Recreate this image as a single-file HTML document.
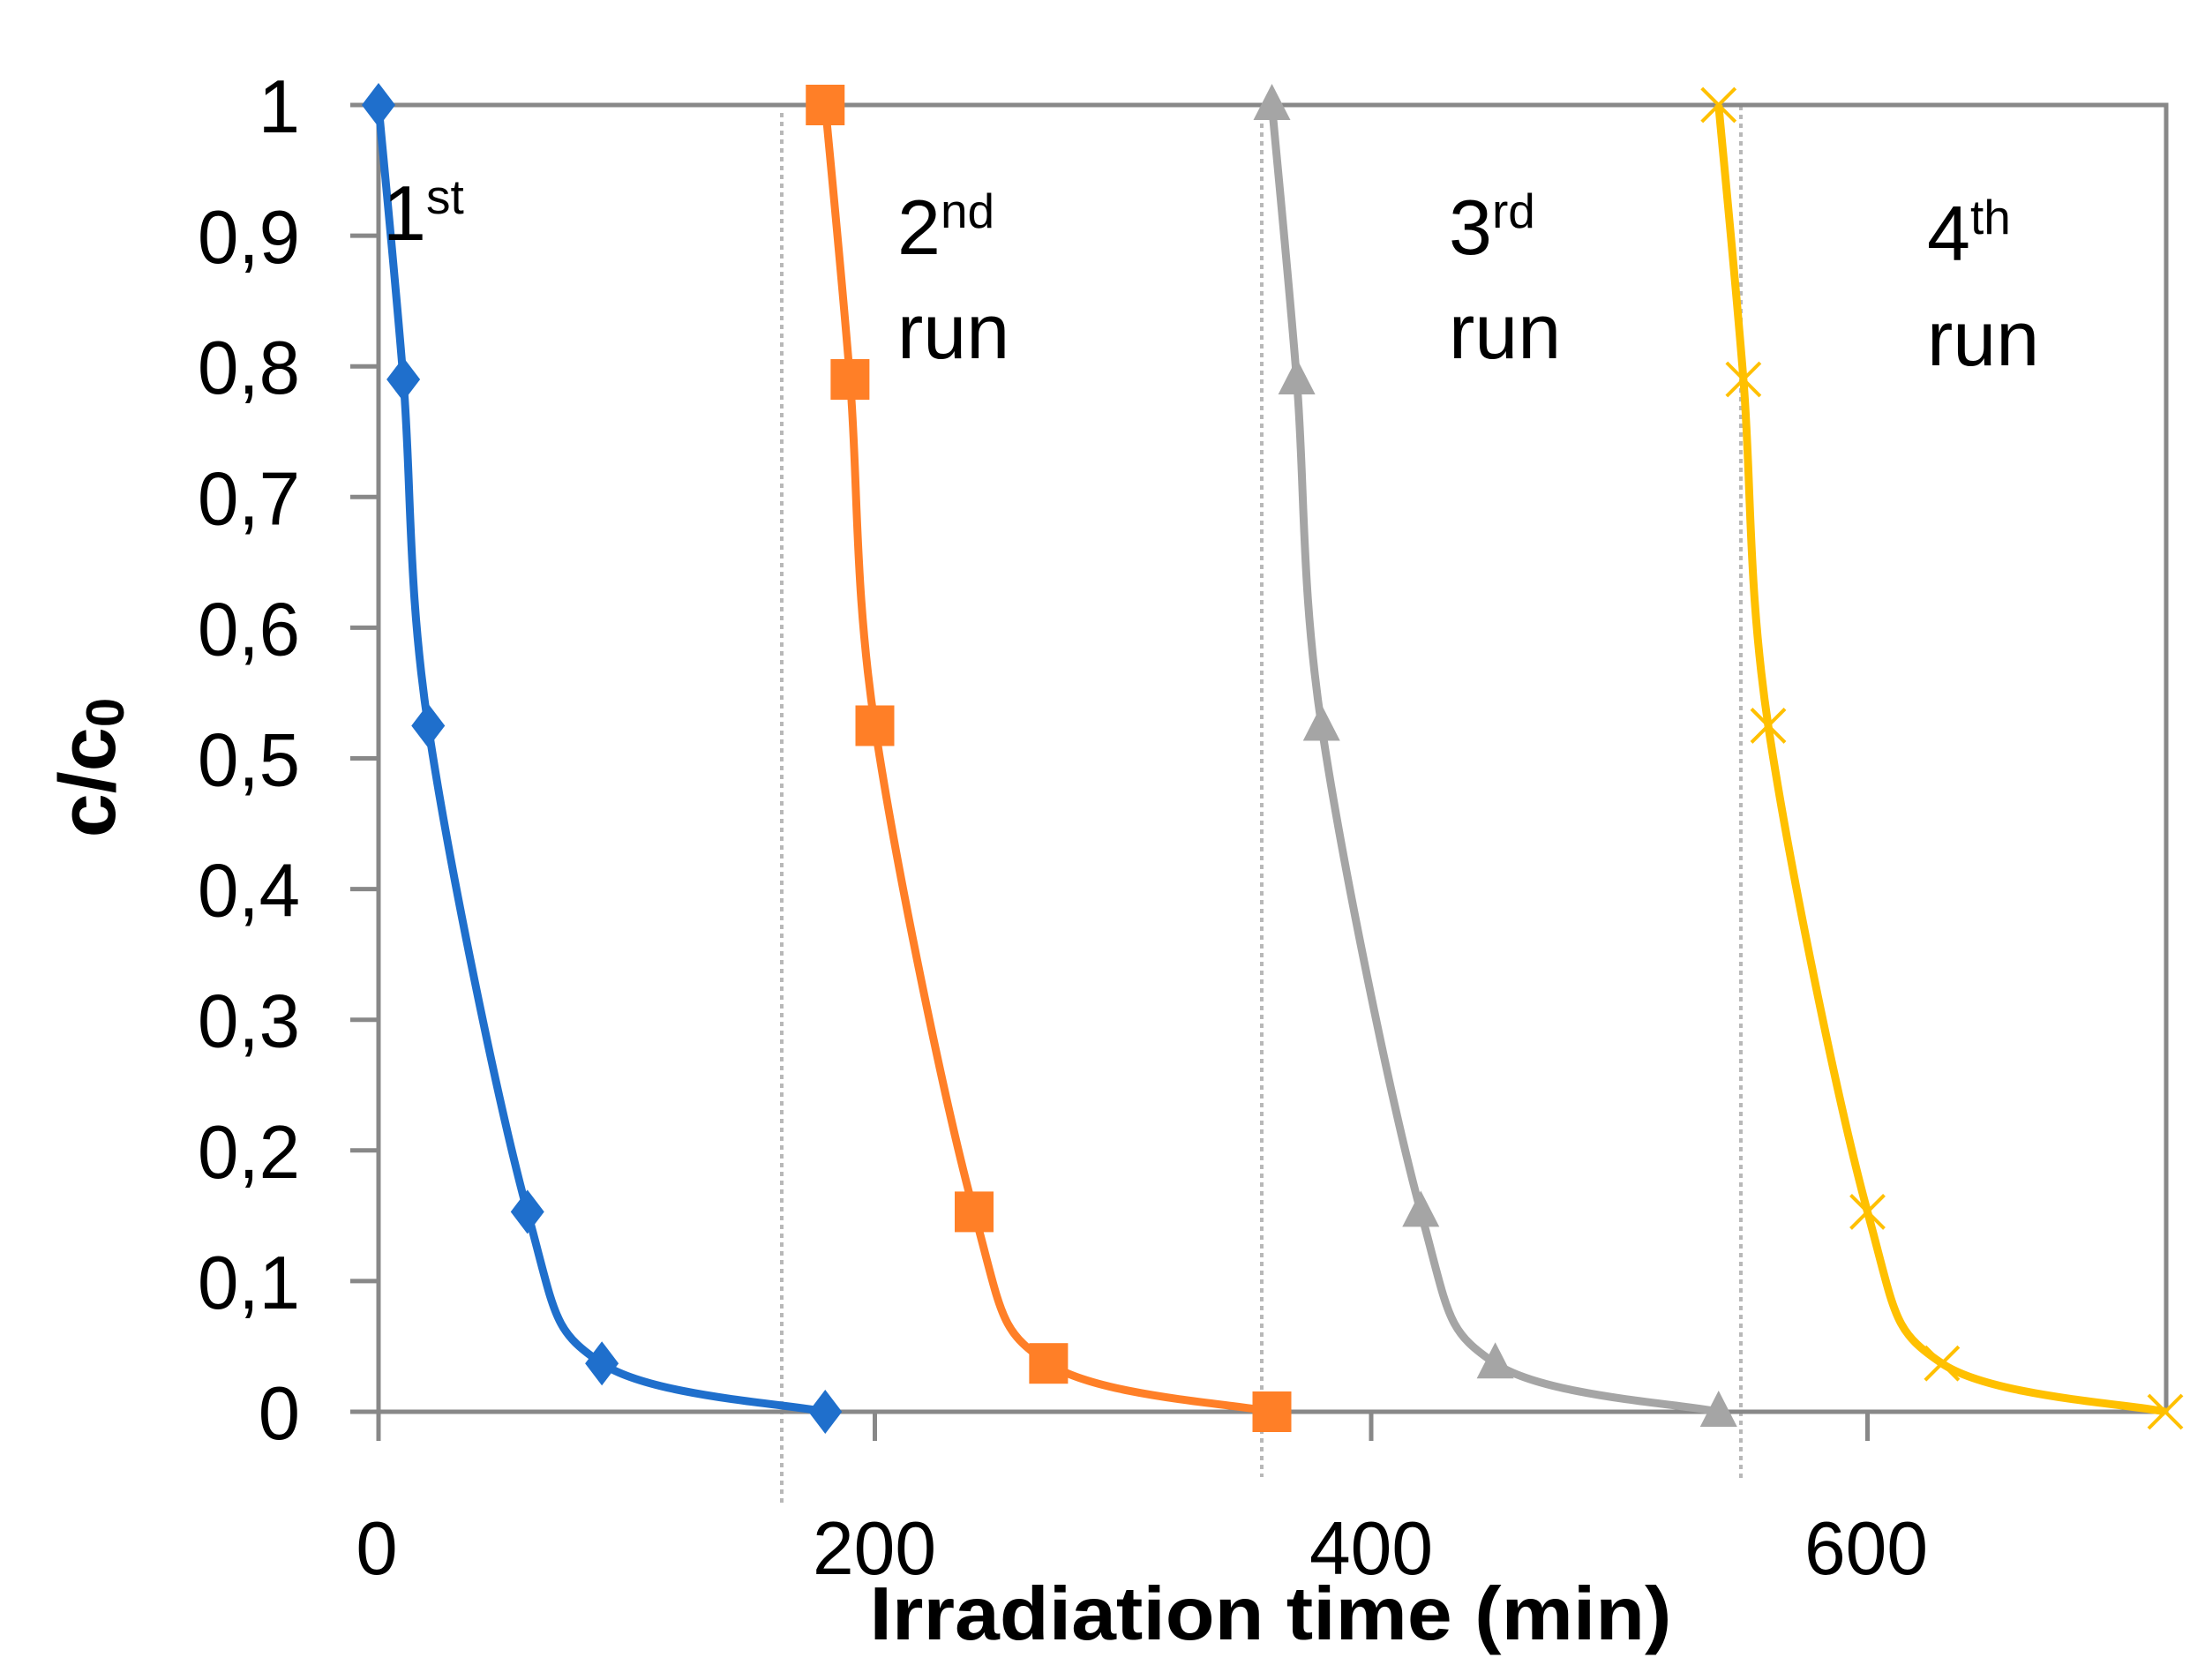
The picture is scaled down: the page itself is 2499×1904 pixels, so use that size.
<!DOCTYPE html>
<html><head><meta charset="utf-8"><style>
html,body{margin:0;padding:0;background:#fff;}
svg{display:block;}
text{font-family:"Liberation Sans",sans-serif;}
</style></head><body>
<svg id="s" width="2499" height="1904" viewBox="0 0 2499 1904" xmlns="http://www.w3.org/2000/svg">
<rect width="2499" height="1904" fill="#fff"/>
<g stroke="#b8b8b8" stroke-width="4" stroke-dasharray="5,5">
<line x1="886" y1="128" x2="886" y2="1706"/>
<line x1="1430" y1="120" x2="1430" y2="1674"/>
<line x1="1973" y1="120" x2="1973" y2="1677"/>
</g>
<g stroke="#888" stroke-width="5" fill="none">
<rect x="429" y="119" width="2026" height="1481"/>
</g>
<g stroke="#888" stroke-width="5" id="ticks"></g>
<g id="ylab" font-size="85" text-anchor="end" fill="#000"></g>
<g font-size="85" text-anchor="middle" fill="#000">
<text x="427" y="1784">0</text>
<text x="991" y="1784" textLength="140" lengthAdjust="spacingAndGlyphs">200</text>
<text x="1554" y="1784" textLength="140" lengthAdjust="spacingAndGlyphs">400</text>
<text x="2115" y="1784" textLength="140" lengthAdjust="spacingAndGlyphs">600</text>
</g>
<text x="1440" y="1858" font-size="85" font-weight="bold" text-anchor="middle" textLength="909" lengthAdjust="spacingAndGlyphs">Irradiation time (min)</text>
<text transform="translate(130,870) rotate(-90)" font-size="90" font-weight="bold" text-anchor="middle">c/c<tspan font-size="60" dy="10">0</tspan></text>
<g id="series"></g>
<g font-size="88" fill="#000">
<text x="434" y="272">1<tspan font-size="55" dy="-30">st</tspan></text>
<text x="1017" y="288">2<tspan font-size="55" dy="-30">nd</tspan></text>
<text x="1017" y="406">run</text>
<text x="1642" y="288">3<tspan font-size="55" dy="-30">rd</tspan></text>
<text x="1642" y="406">run</text>
<text x="2184" y="295">4<tspan font-size="55" dy="-30">th</tspan></text>
<text x="2184" y="414">run</text>
</g>
</svg>
<script>
var NS="http://www.w3.org/2000/svg";
function X(t){return 429+t*2.8125;}
function Y(v){return 1600-v*1481;}
function el(n,a,p){var e=document.createElementNS(NS,n);for(var k in a)e.setAttribute(k,a[k]);p.appendChild(e);return e;}
var tk=document.getElementById('ticks'),yl=document.getElementById('ylab');
for(var i=0;i<=10;i++){var y=Y(i/10);el('line',{x1:397,y1:y,x2:429,y2:y},tk);
var a={x:340,y:y+31};if(i>0&&i<10){a.textLength=116;a.lengthAdjust='spacingAndGlyphs';}
var t=el('text',a,yl);t.textContent=i==0?'0':(i==10?'1':'0,'+i);}
[0,200,400,600].forEach(function(v){el('line',{x1:X(v),y1:1600,x2:X(v),y2:1633},tk);});
var ts=[0,10,20,60,90,180],vs=[1,0.79,0.525,0.153,0.037,0];
var cols=['#1f6fcc','#ff7f27','#a5a5a5','#ffc000'];
var g=document.getElementById('series');
for(var r=0;r<4;r++){
 var P=ts.map(function(t,i){return [X(t+180*r),Y(vs[i])];});
 var d='M'+P[0][0]+','+P[0][1];
 for(var i=0;i<P.length-1;i++){
  var p0=P[Math.max(0,i-1)],p1=P[i],p2=P[i+1],p3=P[Math.min(P.length-1,i+2)],k=1/6;
  d+=' C'+(p1[0]+(p2[0]-p0[0])*k)+','+(p1[1]+(p2[1]-p0[1])*k)+' '+(p2[0]-(p3[0]-p1[0])*k)+','+(p2[1]-(p3[1]-p1[1])*k)+' '+p2[0]+','+p2[1];
 }
 el('path',{d:d,fill:'none',stroke:cols[r],'stroke-width':9,'stroke-linejoin':'round'},g);
 P.forEach(function(p){var x=p[0],y=p[1];
  if(r==0)el('polygon',{points:(x)+','+(y-25)+' '+(x+19)+','+y+' '+x+','+(y+25)+' '+(x-19)+','+y,fill:cols[0]},g);
  else if(r==1)el('rect',{x:x-22,y:y-23,width:44,height:46,fill:cols[1]},g);
  else if(r==2)el('polygon',{points:x+','+(y-24)+' '+(x+21)+','+(y+17)+' '+(x-21)+','+(y+17),fill:cols[2]},g);
  else{el('path',{d:'M'+(x-19)+','+(y-19)+' L'+(x+19)+','+(y+19)+' M'+(x+19)+','+(y-19)+' L'+(x-19)+','+(y+19),stroke:cols[3],'stroke-width':4},g);}
 });
}
</script>
</body></html>
